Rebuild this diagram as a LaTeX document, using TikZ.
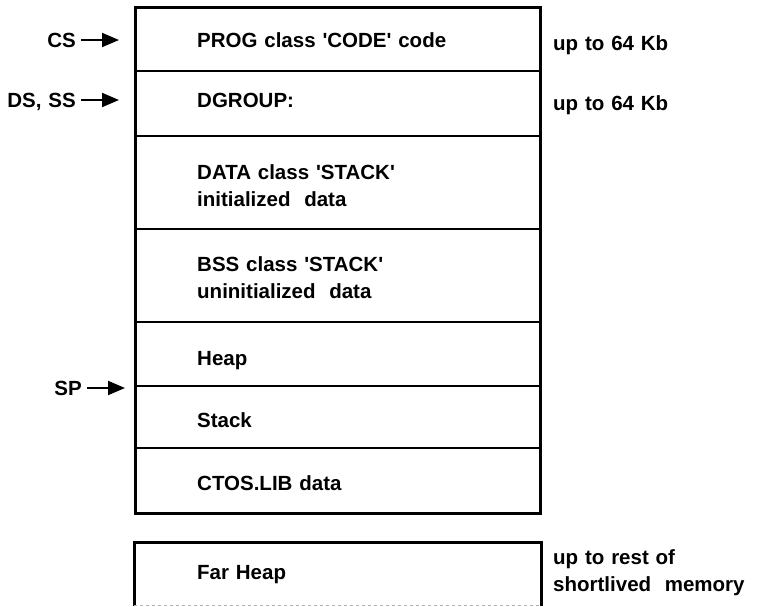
\documentclass[tikz,border=0pt]{standalone}
\usepackage{fontspec}
\setmainfont{Liberation Sans}[WordSpace=1.2]
\usetikzlibrary{arrows.meta}
\tikzset{>={Triangle[length=17pt,width=14pt]}}
\tikzset{
  memtxt/.style={anchor=base west, inner sep=0pt, align=left,
    font=\bfseries\fontsize{20.5}{27}\selectfont},
  regtxt/.style={memtxt, anchor=base east},
  ptr/.style={->, line width=2pt, shorten <=5pt},
  segline/.style={line width=2.2pt},
  frame/.style={line width=3pt},
}
\newcommand*{\q}{\textquotesingle}

\begin{document}
\begin{tikzpicture}[x=1pt, y=-1pt]
    \useasboundingbox(0, 0)rectangle(766, 606);
    \fill[white](0, 0)rectangle(766, 606);
    % near segments
    \foreach \y in {71, 136, 229, 322, 386, 448}
        \draw[segline](135, \y)--(540, \y);
    \draw[frame](135, 7)rectangle(540, 513);
    % far heap, runs off the bottom
    \draw[frame](134, 606)--(134, 542)--(541, 542)--(541, 606);
    \draw[gray!60, dashed](134, 605)--(541, 605);

    % base of a two line node is its last line
    \node[memtxt] (prog) at(197, 47){PROG class \q CODE\q{} code};
    \node[memtxt] (dgroup) at(197, 107){DGROUP:};
    \node[memtxt] (data) at(197, 206){DATA class \q STACK\q\\initialized\ \ data};
    \node[memtxt] (bss) at(197, 298){BSS class \q STACK\q\\uninitialized\ \ data};
    \node[memtxt] (heap) at(197, 365){Heap};
    \node[memtxt] (stack) at(197, 427){Stack};
    \node[memtxt] (ctoslib) at(197, 490){CTOS.LIB data};
    \node[memtxt] (farheap) at(197, 579){Far Heap};

    \node[memtxt] (progsize) at(553, 50){up to 64 Kb};
    \node[memtxt] (dgroupsize) at(553, 110){up to 64 Kb};
    \node[memtxt] (farsize) at(553, 591){up to rest of\\shortlived\ \ memory};

    \coordinate (csat) at(119, 40);
    \coordinate (dsat) at(119, 100);
    \coordinate (spat) at(125, 388);
    \node[regtxt] (cs) at(76, 47){CS};
    \node[regtxt] (dsss) at(76, 107){DS, SS};
    \node[regtxt] (sp) at(82, 395){SP};
    \draw[ptr](cs.east |- csat)--(csat);
    \draw[ptr](dsss.east |- dsat)--(dsat);
    \draw[ptr](sp.east |- spat)--(spat);
\end{tikzpicture}
\end{document}
